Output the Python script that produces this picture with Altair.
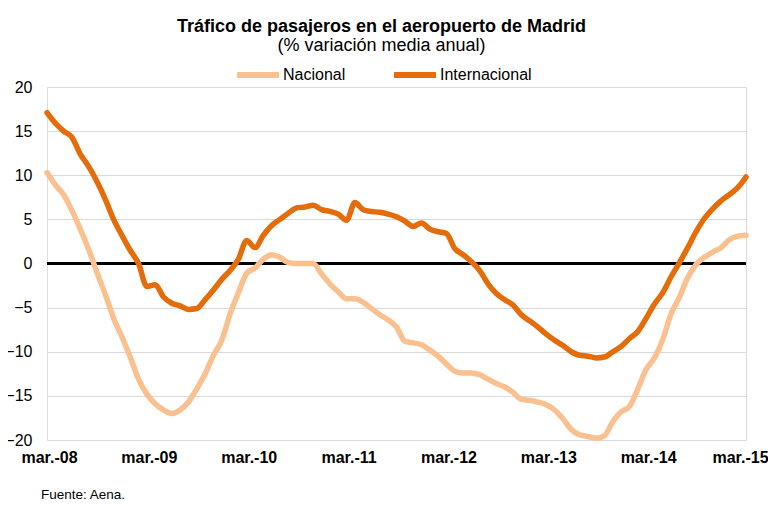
import altair as alt
import pandas as pd

# Monthly series, mar-2008 .. mar-2015 (85 months)
nacional = [
    10.3, 8.9, 7.8, 6.0, 3.9, 1.6, -1.0, -3.5, -6.2, -8.3, -10.6, -13.1,
    -14.8, -15.9, -16.6, -17.0, -16.6, -15.7, -14.2, -12.5, -10.4, -8.7, -5.7, -3.3,
    -1.1, -0.5, 0.5, 1.0, 0.7, 0.1, 0.0, 0.0, 0.0, -1.2, -2.3, -3.2,
    -4.0, -4.0, -4.4, -5.1, -5.8, -6.4, -7.2, -8.8, -9.0, -9.2, -9.8, -10.5,
    -11.4, -12.2, -12.4, -12.4, -12.6, -13.1, -13.6, -14.0, -14.6, -15.4, -15.5, -15.7,
    -16.0, -16.6, -17.6, -18.8, -19.4, -19.6, -19.8, -19.5, -17.9, -16.8, -16.2, -14.2,
    -12.0, -10.7, -8.6, -5.7, -3.8, -1.6, -0.1, 0.7, 1.3, 1.8, 2.7, 3.1,
    3.2,
]
internacional = [
    17.1, 15.9, 15.0, 14.3, 12.4, 11.0, 9.3, 7.3, 5.0, 3.2, 1.5, 0.0,
    -2.6, -2.4, -3.8, -4.5, -4.8, -5.2, -5.1, -4.1, -3.0, -1.8, -0.8, 0.5,
    2.6, 1.8, 3.2, 4.3, 5.0, 5.7, 6.3, 6.4, 6.6, 6.1, 5.9, 5.6,
    4.9, 6.9, 6.1, 5.9, 5.8, 5.6, 5.3, 4.8, 4.2, 4.6, 3.9, 3.6,
    3.4, 1.7, 1.0, 0.2, -0.8, -2.3, -3.4, -4.1, -4.7, -5.8, -6.5, -7.2,
    -8.0, -8.7, -9.3, -10.0, -10.4, -10.5, -10.7, -10.6, -10.0, -9.4, -8.5, -7.7,
    -6.2, -4.6, -3.3, -1.5, 0.1, 1.8, 3.6, 5.1, 6.2, 7.1, 7.8, 8.6,
    9.8,
]
series_names = ["Nacional", "Internacional"]
series_colors = ["#FAC090", "#E46C0A"]
tick_labels = ["mar.-08", "mar.-09", "mar.-10", "mar.-11",
               "mar.-12", "mar.-13", "mar.-14", "mar.-15"]
y_ticks = [-20, -15, -10, -5, 0, 5, 10, 15, 20]

rows = []
for i, v in enumerate(nacional):
    rows.append({"mes": i, "serie": "Nacional", "valor": v})
for i, v in enumerate(internacional):
    rows.append({"mes": i, "serie": "Internacional", "valor": v})
df = pd.DataFrame(rows)

FONT = "Liberation Sans"
W, H = 699, 353
label_js = "[" + ",".join("'%s'" % t for t in tick_labels) + "]"

x_enc = alt.X(
    "mes:Q",
    scale=alt.Scale(domain=[0, 84], nice=False, zero=False),
    axis=alt.Axis(
        values=[12 * k for k in range(len(tick_labels))],
        labelExpr=label_js + "[round(datum.value / 12)]",
        grid=False, ticks=False, domain=False, title=None,
        labelFontWeight="bold", labelFontSize=16, labelPadding=9,
        labelFlush=False, labelColor="#000000", labelFont=FONT,
        labelOffset={"condition": {"test": "datum.value == 84", "value": -6},
                     "value": 2},
    ),
)
y_enc = alt.Y(
    "valor:Q",
    scale=alt.Scale(domain=[-20, 20], nice=False, zero=False),
    axis=alt.Axis(
        values=y_ticks, grid=True, gridColor="#D9D9D9", gridWidth=1.2,
        ticks=False, domain=False, title=None, labelPadding=15,
        labelFontSize=16, labelColor="#000000", labelFont=FONT,
    ),
)

lines = alt.Chart(df).mark_line(
    strokeWidth=5.5, interpolate="monotone", strokeCap="round", strokeJoin="round"
).encode(
    x=x_enc,
    y=y_enc,
    color=alt.Color(
        "serie:N",
        sort=series_names,
        scale=alt.Scale(domain=series_names, range=series_colors),
        legend=alt.Legend(
            orient="none", legendX=187, legendY=-36, direction="horizontal",
            symbolType="stroke", symbolSize=1764, symbolStrokeWidth=6,
            labelFontSize=16, labelFont=FONT, labelColor="#000000",
            columnPadding=36, labelOffset=1, title=None, padding=0,
        ),
    ),
    detail="serie:N",
)

zero = alt.Chart(pd.DataFrame({"z": [0]})).mark_rule(
    color="#000000", strokeWidth=3
).encode(y=alt.Y("z:Q"))

footer = alt.Chart(pd.DataFrame({"t": ["Fuente: Aena."]})).mark_text(
    align="left", baseline="alphabetic", fontSize=13.5, font=FONT, color="#000000"
).encode(x=alt.value(-6), y=alt.value(412), text="t:N")

chart = alt.layer(zero, lines, footer).properties(
    width=W,
    height=H,
    autosize=alt.AutoSizeParams(type="none"),
    padding={"left": 39, "top": 79, "right": 22, "bottom": 59},
    title=alt.TitleParams(
        text="Tráfico de pasajeros en el aeropuerto de Madrid",
        subtitle="(% variación media anual)",
        anchor="middle", dx=-15, fontSize=18, fontWeight="bold",
        subtitleFontSize=18, subtitlePadding=1, font=FONT, subtitleFont=FONT,
        color="#000000", subtitleColor="#000000", offset=-4,
    ),
).configure_view(stroke=None).configure(font=FONT)

chart.save("out.html", embed_options={"renderer": "svg", "actions": False})
